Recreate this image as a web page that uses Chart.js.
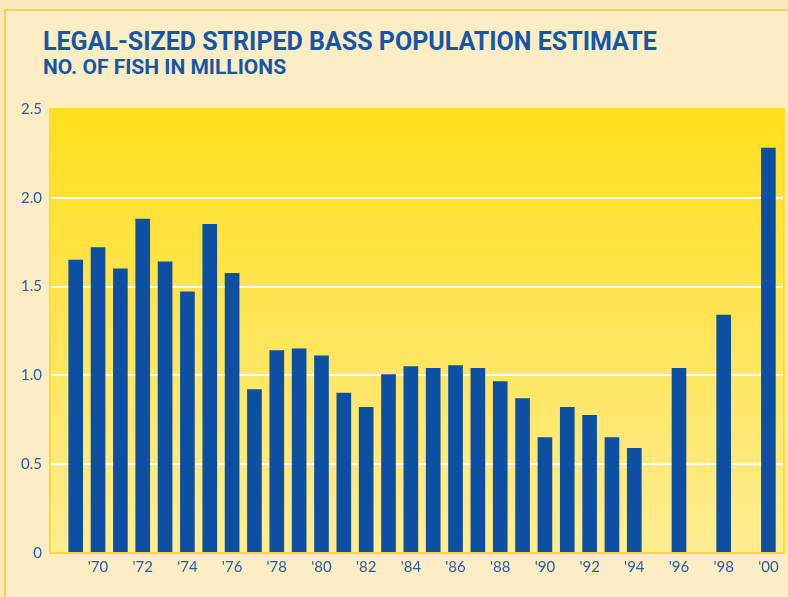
<!DOCTYPE html>
<html>
<head>
<meta charset="utf-8">
<script src="https://cdn.jsdelivr.net/npm/chart.js@4"></script>
<style>
  html, body { margin: 0; padding: 0; }
  body { width: 788px; height: 597px; background: #fbe9bd; position: relative; overflow: hidden; }
  #frame { position: absolute; left: 4px; top: 9px; width: 800px; height: 600px;
           border-left: 2px solid #fbd24e; border-top: 2px solid #fbd24e; background: #fdedc4; }
  h1, h2 { position: absolute; margin: 0; color: #1656a6; font-family: "Roboto", sans-serif;
           font-weight: bold; white-space: nowrap; line-height: 1; }
  h1 { left: 43px; top: 29px; font-size: 25px; }
  h2 { left: 43px; top: 57px; font-size: 21px; }
  #wrap { position: absolute; left: 0; top: 0; width: 788px; height: 597px; }
</style>
</head>
<body>
<div id="frame"></div>
<h1>LEGAL-SIZED STRIPED BASS POPULATION ESTIMATE</h1>
<h2>NO. OF FISH IN MILLIONS</h2>
<div id="wrap"><canvas id="bass-chart" width="788" height="597"></canvas></div>
<script>
// estimate by year, millions of fish (no survey 1995, 1997, 1999)
let years = [1969, 1970, 1971, 1972, 1973, 1974, 1975, 1976, 1977, 1978,
  1979, 1980, 1981, 1982, 1983, 1984, 1985, 1986, 1987, 1988,
  1989, 1990, 1991, 1992, 1993, 1994, 1996, 1998, 2000];
let fish = [1.65, 1.72, 1.60, 1.88, 1.64, 1.47, 1.85, 1.575, 0.92, 1.14,
  1.15, 1.11, 0.90, 0.82, 1.005, 1.05, 1.04, 1.055, 1.04, 0.965,
  0.87, 0.65, 0.82, 0.775, 0.65, 0.59, 1.04, 1.34, 2.28];
let yTicks = [0, 0.5, 1.0, 1.5, 2.0, 2.5];

let points = years.map((yr, i) => ({ x: yr, y: fish[i] }));

// yellow gradient panel behind the bars + border
let plotPanel = {
  id: 'plotPanel',
  beforeDraw(chart) {
    let { ctx, chartArea: a } = chart;
    let g = ctx.createLinearGradient(0, a.top, 0, a.bottom);
    g.addColorStop(0, '#ffe01b');
    g.addColorStop(0.5, '#ffe558');
    g.addColorStop(1, '#ffed93');
    ctx.save();
    ctx.fillStyle = g;
    ctx.fillRect(a.left, a.top, a.right - a.left, a.bottom - a.top);
    ctx.restore();
  },
  afterDraw(chart) {
    let { ctx, chartArea: a } = chart;
    ctx.save();
    ctx.strokeStyle = '#fddb2c';
    ctx.lineWidth = 2;
    ctx.strokeRect(a.left, a.top, a.right - a.left, a.bottom - a.top);
    ctx.restore();
  }
};

let tickFont = { family: '"Lato", "DejaVu Sans", sans-serif', size: 15 };

new Chart(document.getElementById('bass-chart'), {
  type: 'bar',
  data: {
    datasets: [{
      data: points,
      backgroundColor: '#0d4fa2',
      barThickness: 14
    }]
  },
  options: {
    responsive: false,
    animation: false,
    devicePixelRatio: 1,
    layout: { padding: { top: 109, right: 4, left: 0, bottom: 0 } },
    plugins: { legend: { display: false }, tooltip: { enabled: false } },
    scales: {
      x: {
        type: 'linear',
        offset: false,
        min: 1967.85,
        max: 2000.7,
        grid: { display: false, drawTicks: false },
        border: { display: false },
        afterFit(s) { s.height = 44; },
        ticks: {
          stepSize: 2,
          includeBounds: false,
          padding: 5,
          color: '#2a5ca6',
          font: tickFont,
          callback: v => (v < 1970 || v % 2) ? '' : "'" + String(v).slice(2)
        }
      },
      y: {
        min: 0,
        max: 2.5,
        afterFit(s) { s.width = 50; },
        afterBuildTicks(s) { s.ticks = yTicks.map(v => ({ value: v })); },
        border: { display: false },
        grid: {
          drawTicks: false,
          lineWidth: 2,
          color: c => (c.tick.value === 0 || c.tick.value === 2.5) ? 'rgba(0,0,0,0)' : '#ffffff'
        },
        ticks: {
          padding: 8,
          color: '#2a5ca6',
          font: tickFont,
          callback: v => v === 0 ? '0' : v.toFixed(1)
        }
      }
    }
  },
  plugins: [plotPanel]
});
</script>
</body>
</html>
